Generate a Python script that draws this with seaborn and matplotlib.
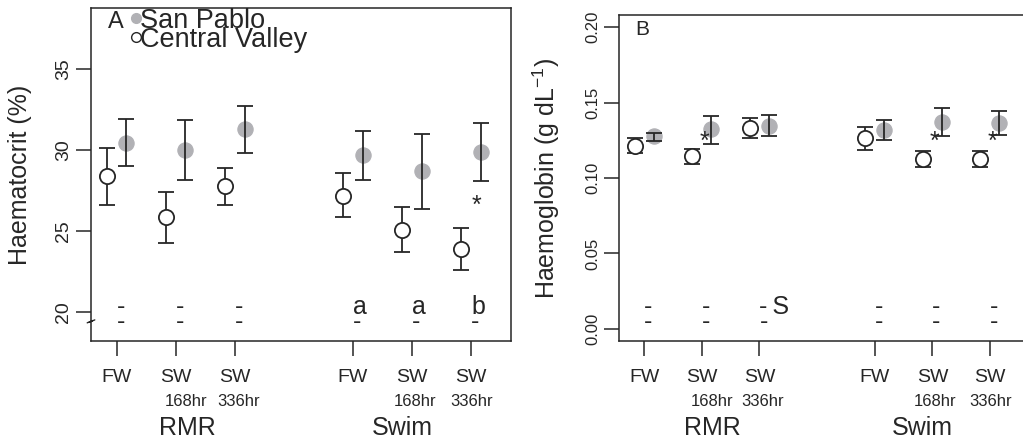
import matplotlib
matplotlib.use('Agg')
import matplotlib.pyplot as plt
import matplotlib.transforms as mtransforms
from matplotlib.lines import Line2D
import pandas as pd
import seaborn as sns

# six treatment groups, with a gap between the RMR and Swim trials
positions = [1, 2, 3, 5, 6, 7]
water_labels = ['FW', 'SW', 'SW', 'FW', 'SW', 'SW']
time_labels = ['', '168hr', '336hr', '', '168hr', '336hr']
trial_labels = ['RMR', 'Swim']
sites = ['San Pablo', 'Central Valley']

# haematocrit (%) - mean and error bar ends
hct_cv = [28.4, 25.9, 27.8, 27.2, 25.1, 23.9]
hct_cv_lo = [26.6, 24.3, 26.65, 25.9, 23.7, 22.6]
hct_cv_hi = [30.15, 27.4, 28.9, 28.6, 26.5, 25.2]
hct_sp = [30.45, 30.0, 31.3, 29.7, 28.7, 29.9]
hct_sp_lo = [29.05, 28.15, 29.85, 28.15, 26.4, 28.1]
hct_sp_hi = [31.9, 31.85, 32.75, 31.2, 31.0, 31.7]
hct_top = ['-', '-', '-', 'a', 'a', 'b']
hct_bottom = ['-', '-', '-', '-', '-', '-']
hct_star = [7]

# haemoglobin (g dL-1)
hb_cv = [0.1215, 0.1143, 0.1333, 0.1266, 0.1125, 0.1129]
hb_cv_lo = [0.1165, 0.1090, 0.1264, 0.1187, 0.1072, 0.1072]
hb_cv_hi = [0.1266, 0.1189, 0.1399, 0.1341, 0.1176, 0.1182]
hb_sp = [0.1275, 0.1322, 0.1346, 0.1315, 0.1368, 0.1364]
hb_sp_lo = [0.1246, 0.1227, 0.1280, 0.1251, 0.1277, 0.1286]
hb_sp_hi = [0.1299, 0.1410, 0.1417, 0.1381, 0.1461, 0.1441]
hb_top = ['-', '-', '-\u2009S', '-', '-', '-']
hb_bottom = ['-', '-', '-', '-', '-', '-']
hb_star = [2, 6, 7]

INK = '#262626'
GREY = '#b1b1b5'
OFFSET = 0.165
time_shift = [0, 0.18, 0.06, 0, 0.05, 0.01]
trial_x = [2.19, 5.83]

sns.set_theme(style='white')
plt.rcParams['font.family'] = ['Liberation Sans', 'DejaVu Sans']
plt.rcParams['mathtext.fontset'] = 'custom'
plt.rcParams['mathtext.rm'] = 'Liberation Sans'
plt.rcParams['mathtext.it'] = 'Liberation Sans:italic'
plt.rcParams['text.color'] = INK


def panel_frame(cv, cv_lo, cv_hi, sp, sp_lo, sp_hi):
    rows = []
    for i, p in enumerate(positions):
        rows.append(dict(x=p - OFFSET, site='Central Valley', mean=cv[i],
                         lo=cv_lo[i], hi=cv_hi[i]))
        rows.append(dict(x=p + OFFSET, site='San Pablo', mean=sp[i],
                         lo=sp_lo[i], hi=sp_hi[i]))
    return pd.DataFrame(rows)


def draw_panel(ax, df, ylim, yticks, yfmt, ylabel, tick_size,
               top, bottom, y_marks, stars, y_star, star_dx):
    sp_df = df[df['site'] == 'San Pablo']
    cv_df = df[df['site'] == 'Central Valley']

    for d in (sp_df, cv_df):
        ax.errorbar(d['x'], d['mean'],
                    yerr=[d['mean'] - d['lo'], d['hi'] - d['mean']],
                    fmt='none', ecolor=INK, elinewidth=1.3, capsize=5.5,
                    capthick=1.3, zorder=3)
    sns.scatterplot(data=sp_df, x='x', y='mean', color=GREY, edgecolor=GREY,
                    s=120, ax=ax, zorder=2, legend=False)
    sns.scatterplot(data=cv_df, x='x', y='mean', color='white', edgecolor=INK,
                    linewidth=1.3, s=120, ax=ax, zorder=4, legend=False)

    ax.set_xlim(0.565, 7.677)
    ax.set_ylim(*ylim)
    ax.set_yticks(yticks)
    ax.set_yticklabels([yfmt.format(v) for v in yticks])
    ax.set_xticks(positions)
    ax.set_xticklabels([])
    ax.set_xlabel('')
    ax.set_ylabel(ylabel, fontsize=18)
    ax.yaxis.set_label_coords(-0.14, 0.5)

    ax.tick_params(axis='both', direction='out', length=10.5, width=1.1,
                   color=INK, left=True, bottom=True)
    ax.tick_params(axis='y', labelsize=tick_size, labelrotation=90,
                   pad=3, labelcolor=INK)
    for lab in ax.get_yticklabels():
        lab.set_va('center')
    for sp in ax.spines.values():
        sp.set_color(INK)
        sp.set_linewidth(1.1)

    # category labels below the axis
    for i, p in enumerate(positions):
        ax.annotate(water_labels[i], xy=(p, 0), xycoords=('data', 'axes fraction'),
                    xytext=(0, -29.3), textcoords='offset points',
                    ha='center', va='baseline', fontsize=14)
        if time_labels[i]:
            ax.annotate(time_labels[i], xy=(p + time_shift[i], 0),
                        xycoords=('data', 'axes fraction'),
                        xytext=(0, -46.8), textcoords='offset points',
                        ha='center', va='baseline', fontsize=12)
    for tx, lab in zip(trial_x, trial_labels):
        ax.annotate(lab, xy=(tx, 0), xycoords=('data', 'axes fraction'),
                    xytext=(0, -67.7), textcoords='offset points',
                    ha='center', va='baseline', fontsize=18)

    # significance letters / dashes near the bottom (two stacked rows)
    for i, p in enumerate(positions):
        ax.text(p, y_marks, top[i] + '\n' + bottom[i], ha='left',
                va='baseline', fontsize=18, linespacing=0.525)
    for p in stars:
        ax.text(p + star_dx, y_star, '*', ha='center', va='center', fontsize=18)


fig = plt.figure(figsize=(10.23, 4.42), dpi=100)
ax_a = fig.add_axes([91 / 1023, 101 / 442, 420 / 1023, 333 / 442])
ax_b = fig.add_axes([619 / 1023, 101 / 442, 410 / 1023, 326 / 442])

hct_df = panel_frame(hct_cv, hct_cv_lo, hct_cv_hi, hct_sp, hct_sp_lo, hct_sp_hi)
hb_df = panel_frame(hb_cv, hb_cv_lo, hb_cv_hi, hb_sp, hb_sp_lo, hb_sp_hi)

draw_panel(ax_a, hct_df, (18.24, 38.76), [20, 25, 30, 35], '{:g}',
           'Haematocrit (%)', 14, hct_top, hct_bottom, 19.0,
           hct_star, 26.55, 0.1)
draw_panel(ax_b, hb_df, (-0.008, 0.208), [0.0, 0.05, 0.10, 0.15, 0.20], '{:.2f}',
           'Haemoglobin (g dL$^{-1}$)', 12, hb_top, hb_bottom, 0.0,
           hb_star, 0.1242, 0.04)

# axis break on the haematocrit axis
brk = mtransforms.blended_transform_factory(ax_a.transAxes, ax_a.transData)
ax_a.plot([-0.009, 0.004, -0.004, 0.009], [19.36, 19.50, 19.40, 19.54],
          color=INK, lw=1.0, transform=brk, clip_on=False, zorder=5)

# panel letters and legend
ax_a.text(0.04, 0.939, 'A', transform=ax_a.transAxes, fontsize=17, va='baseline')
ax_b.text(0.039, 0.939, 'B', transform=ax_b.transAxes, fontsize=15, va='baseline')

handles = [Line2D([], [], ls='none', marker='o', ms=7, color=GREY, mec=GREY),
           Line2D([], [], ls='none', marker='o', ms=7, mfc='white', mec=INK, mew=1.0)]
ax_a.legend(handles, sites, loc='upper left', bbox_to_anchor=(0.092, 1.001),
            frameon=False, fontsize=19.5, handlelength=0.5, handletextpad=-0.1,
            labelspacing=-0.255, borderpad=0, borderaxespad=0)

fig.savefig('out.png', dpi=100)
